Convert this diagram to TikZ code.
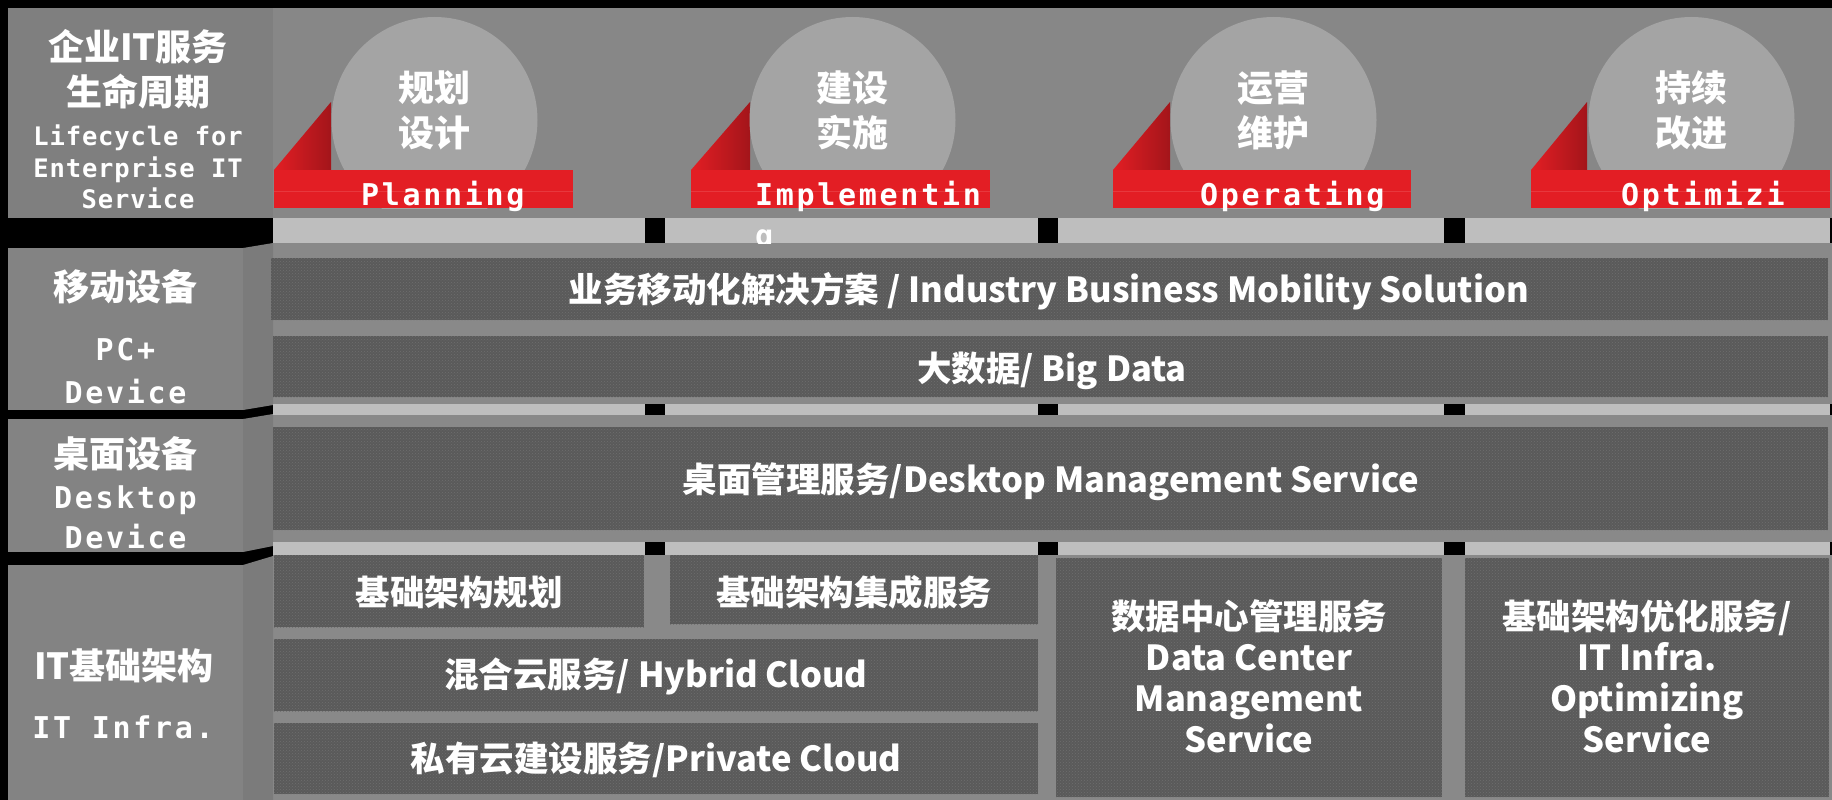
\documentclass[tikz,border=0pt]{standalone}
\usepackage{fontspec}
\usetikzlibrary{patterns}
\newfontfamily\cjk{Noto Sans CJK SC}
\newfontfamily\monoA{DejaVu Sans Mono}[LetterSpace=9]
\newfontfamily\monoB{DejaVu Sans Mono}[LetterSpace=3.5]
\definecolor{bgray}{HTML}{898989}
\definecolor{topgray}{HTML}{878787}
\definecolor{panel}{HTML}{838383}
\definecolor{bevel}{HTML}{7B7B7B}
\definecolor{lightbar}{HTML}{BEBEBE}
\definecolor{circ}{HTML}{A4A4A4}
\definecolor{rib}{HTML}{E31E24}
\definecolor{ribdark}{HTML}{A3151A}
\definecolor{ribline}{HTML}{EC4A4E}
\definecolor{dbox}{HTML}{5A5A5A}
\definecolor{ddots}{HTML}{6E6E6E}
\begin{document}
\begin{tikzpicture}[x=1pt,y=-1pt,
  cjkbig/.style={text=white, font=\cjk\bfseries\fontsize{36}{44}\selectfont, inner sep=0pt, anchor=base},
  boxtxt/.style={text=white, font=\cjk\bfseries\fontsize{34.5}{41}\selectfont, inner sep=0pt, anchor=base},
  monotxt/.style={text=white, font=\monoA\bfseries\fontsize{30}{40}\selectfont, inner sep=0pt, anchor=base},
  ribtxt/.style={text=white, font=\monoA\bfseries\fontsize{30}{40}\selectfont, inner sep=0pt, anchor=base west},
  lifetxt/.style={text=white, font=\monoB\bfseries\fontsize{25.5}{31}\selectfont, inner sep=0pt, anchor=base},
  darkbox/.style={fill=dbox, postaction={pattern=crosshatch dots, pattern color=ddots}},
  blacksq/.style={fill=black},
  lbar/.style={fill=lightbar},
  ribfold/.style={left color=rib, right color=ribdark},
  ribbon/.style={fill=rib}
]
\useasboundingbox (0,0) rectangle (1832,800);
% frame
\fill[black] (0,0) rectangle (1832,800);
% top section
\fill[topgray] (8,8) rectangle (1832,218);
\fill[panel!97!black] (8,8) rectangle (273,218);
% content background
\fill[bgray] (273,243) rectangle (1832,800);
% left panels with bevels
\fill[panel] (8,248) rectangle (243,410);
\fill[bevel] (243,248) -- (273,243) -- (273,405) -- (243,410) -- cycle;
\fill[panel] (8,419) rectangle (243,552);
\fill[bevel] (243,419) -- (273,414) -- (273,546) -- (243,552) -- cycle;
\fill[panel] (8,565) rectangle (243,800);
\fill[bevel] (243,565) -- (273,556) -- (273,800) -- (243,800) -- cycle;

% ribbon folds
\shade[ribfold] (274,170) -- (331,102) -- (331,170) -- cycle;
\shade[ribfold] (691,170) -- (750,102) -- (750,170) -- cycle;
\shade[ribfold] (1113,170) -- (1170,102) -- (1170,170) -- cycle;
\shade[ribfold] (1531,170) -- (1587,102) -- (1587,170) -- cycle;
% circles
\begin{scope}
\clip (0,0) rectangle (1832,208);
\fill[circ] (434.5,120) circle (103);
\fill[circ] (852.5,120) circle (103);
\fill[circ] (1273.5,120) circle (103);
\fill[circ] (1691.5,120) circle (103);
\end{scope}
% ribbons
\fill[ribbon] (274,170) rectangle (573,208);
\fill[ribbon] (691,170) rectangle (990,208);
\fill[ribbon] (1113,170) rectangle (1411,208);
\fill[ribbon] (1531,170) rectangle (1830,208);
\foreach \a/\b in {274/573,691/990,1113/1411,1531/1830}{
  \draw[ribline, line width=0.8pt, opacity=0.6] (\a,191.5) -- (\b,191.5);
}

% light bars with black squares
\foreach \ya/\yb in {218/243,404/415,542/555}{
  \fill[lbar] (273,\ya) rectangle (1830,\yb);
  \fill[blacksq] (645,\ya) rectangle (665,\yb);
  \fill[blacksq] (1038,\ya) rectangle (1058,\yb);
  \fill[blacksq] (1444,\ya) rectangle (1465,\yb);
  \fill[blacksq] (1830,\ya) rectangle (1832,\yb);
}

% wrapped letter of "Implementing" (drawn before gray band covers it)
\begin{scope}
\clip (600,218) rectangle (1000,243);
\node[ribtxt] (g2) at (755,246) {g};
\end{scope}

% dark boxes
\fill[darkbox] (271,258) rectangle (1828,320);
\fill[darkbox] (273,336) rectangle (1828,397);
\fill[darkbox] (273,427) rectangle (1828,530);
\fill[darkbox] (274,555) rectangle (644,627);
\fill[darkbox] (670,555) rectangle (1038,624);
\fill[darkbox] (274,639) rectangle (1038,711);
\fill[darkbox] (274,723) rectangle (1038,794);
\fill[darkbox] (1056,558) rectangle (1442,797);
\fill[darkbox] (1465,558) rectangle (1829,797);

% top-left label
\node[cjkbig] (t1) at (138,60) {企业IT服务};
\node[cjkbig] (t2) at (138,105) {生命周期};
\node[lifetxt] (t3) at (138,145) {Lifecycle for};
\node[lifetxt] (t4) at (138,177) {Enterprise IT};
\node[lifetxt] (t5) at (138,208) {Service};

% circle labels
\node[cjkbig] (p1a) at (434.5,102) {规划};
\node[cjkbig] (p1b) at (434.5,146) {设计};
\node[cjkbig] (p2a) at (852.5,102) {建设};
\node[cjkbig] (p2b) at (852.5,146) {实施};
\node[cjkbig] (p3a) at (1273.5,102) {运营};
\node[cjkbig] (p3b) at (1273.5,146) {维护};
\node[cjkbig] (p4a) at (1691.5,102) {持续};
\node[cjkbig] (p4b) at (1691.5,146) {改进};

% ribbon labels
\node[ribtxt] (r1) at (361,205) {Planning};
\node[ribtxt] (r2) at (755,205) {Implementin};
\node[ribtxt] (r3) at (1200,205) {Operating};
\node[ribtxt] (r4) at (1621,205) {Optimizi};

% left panel labels
\node[cjkbig] (l1) at (125.5,300) {移动设备};
\node[monotxt] (l2) at (125.5,360) {PC+};
\node[monotxt] (l3) at (125.5,403) {Device};
\node[cjkbig] (l4) at (125.5,467) {桌面设备};
\node[monotxt] (l5) at (125.5,508) {Desktop};
\node[monotxt] (l6) at (125.5,548) {Device};
\node[cjkbig] (l7) at (124,679) {IT基础架构};
\node[monotxt] (l8) at (123,738) {IT Infra.};

% box labels
\node[boxtxt] (b1) at (1049,302) {业务移动化解决方案 / Industry Business Mobility Solution};
\node[boxtxt] (b2) at (1052,381) {大数据/ Big Data};
\node[boxtxt] (b3) at (1051,492) {桌面管理服务/Desktop Management Service};
\node[boxtxt] (b4) at (459,605) {基础架构规划};
\node[boxtxt] (b5) at (854,605) {基础架构集成服务};
\node[boxtxt] (b6) at (656,687) {混合云服务/ Hybrid Cloud};
\node[boxtxt] (b7) at (656,771) {私有云建设服务/Private Cloud};
\node[boxtxt] (b8a) at (1249,629) {数据中心管理服务};
\node[boxtxt] (b8b) at (1249,670) {Data Center};
\node[boxtxt] (b8c) at (1249,711) {Management};
\node[boxtxt] (b8d) at (1249,752) {Service};
\node[boxtxt] (b9a) at (1647,629) {基础架构优化服务/};
\node[boxtxt] (b9b) at (1647,670) {IT Infra.};
\node[boxtxt] (b9c) at (1647,711) {Optimizing};
\node[boxtxt] (b9d) at (1647,752) {Service};
\end{tikzpicture}
\end{document}
